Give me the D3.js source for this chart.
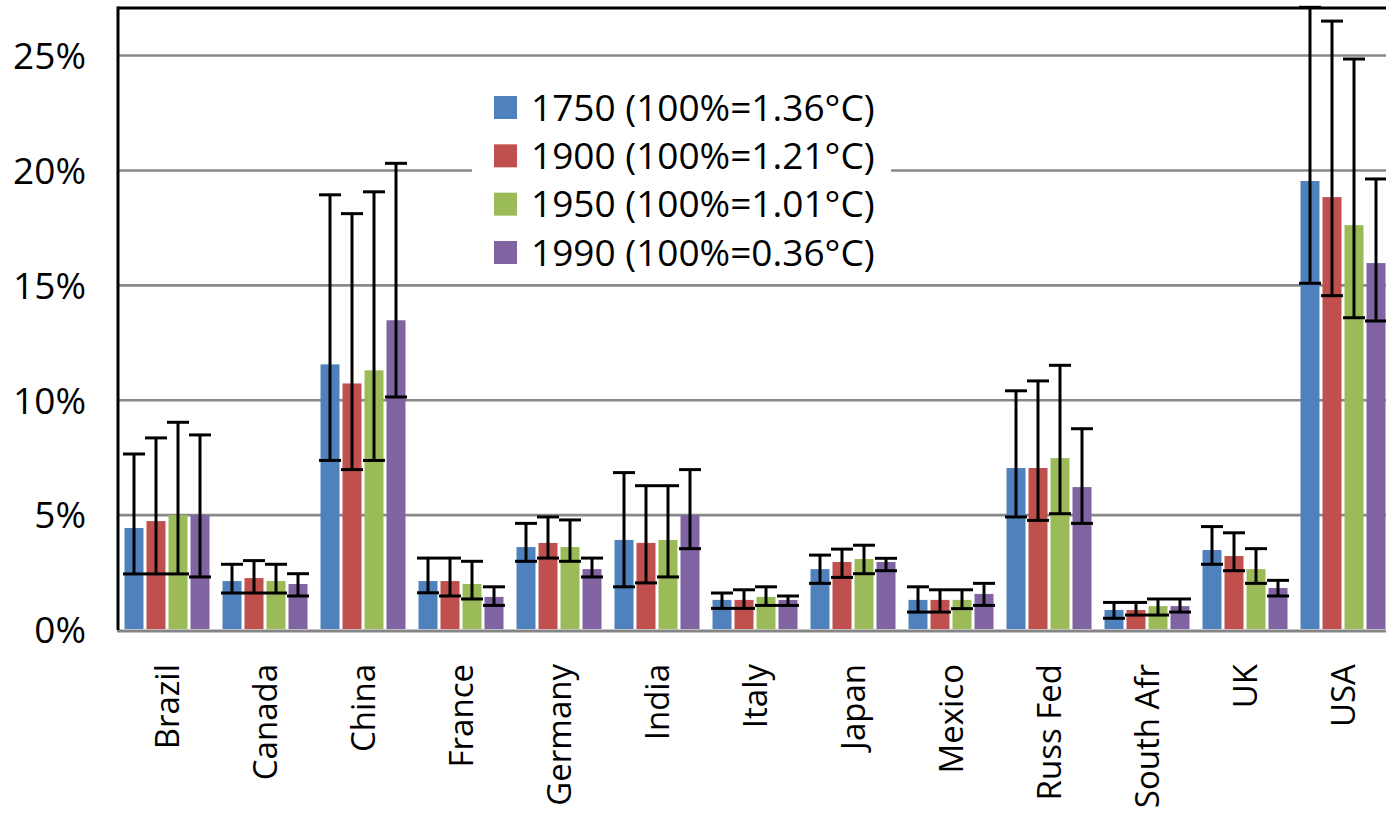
<!DOCTYPE html>
<html><head><meta charset="utf-8">
<script src="https://cdn.jsdelivr.net/npm/d3@7"></script>
<style>html,body{margin:0;padding:0;background:#fff;overflow:hidden}</style>
</head><body>
<svg id="chart" width="1386" height="816"></svg>
<script>
const categories = ["Brazil","Canada","China","France","Germany","India","Italy","Japan","Mexico","Russ Fed","South Afr","UK","USA"];
const seriesNames = ["1750 (100%=1.36°C)","1900 (100%=1.21°C)","1950 (100%=1.01°C)","1990 (100%=0.36°C)"];
const colors = ["#4F81BD","#C0504D","#9BBB59","#8064A2"];
const yTicks = [0,5,10,15,20,25];
const yMax = 27.07;

const v1750 = [4.44, 2.13, 11.56, 2.13, 3.61, 3.92, 1.31, 2.65, 1.31, 7.05, 0.87, 3.48, 19.54];
const v1900 = [4.74, 2.26, 10.73, 2.13, 3.79, 3.79, 1.31, 2.96, 1.31, 7.05, 0.87, 3.22, 18.84];
const v1950 = [5.00, 2.13, 11.30, 2.00, 3.61, 3.92, 1.44, 3.09, 1.31, 7.48, 1.04, 2.65, 17.62];
const v1990 = [5.00, 2.00, 13.48, 1.44, 2.65, 5.00, 1.31, 2.96, 1.57, 6.22, 1.04, 1.83, 15.97];

const lo1750 = [2.44, 1.61, 7.38, 1.62, 2.99, 1.88, 0.94, 2.03, 0.78, 4.92, 0.51, 2.86, 15.09];
const lo1900 = [2.44, 1.61, 6.98, 1.48, 3.13, 2.05, 0.94, 2.29, 0.78, 4.77, 0.65, 2.58, 14.55];
const lo1950 = [2.44, 1.61, 7.38, 1.35, 2.99, 2.31, 1.07, 2.45, 0.93, 5.06, 0.65, 2.03, 13.59];
const lo1990 = [2.31, 1.48, 10.14, 1.07, 2.31, 3.54, 1.07, 2.58, 1.07, 4.64, 0.78, 1.48, 13.45];

const hi1750 = [7.66, 2.86, 18.94, 3.13, 4.64, 6.85, 1.61, 3.26, 1.88, 10.41, 1.20, 4.50, 27.10];
const hi1900 = [8.36, 3.02, 18.12, 3.13, 4.92, 6.28, 1.75, 3.52, 1.75, 10.84, 1.20, 4.23, 26.50];
const hi1950 = [9.04, 2.86, 19.07, 2.99, 4.79, 6.28, 1.88, 3.69, 1.75, 11.52, 1.35, 3.54, 24.85];
const hi1990 = [8.49, 2.45, 20.31, 1.88, 3.13, 6.98, 1.48, 3.12, 2.03, 8.76, 1.35, 2.16, 19.63];

const values = [v1750, v1900, v1950, v1990];
const lows = [lo1750, lo1900, lo1950, lo1990];
const highs = [hi1750, hi1900, hi1950, hi1990];

(function draw() {
const FONT = "'Open Sans', sans-serif";
const svg = d3.select("#chart");
const pLeft = 118, pRight = 1392, pTop = 8, pBottom = 630;

const x0 = d3.scaleBand().domain(categories).range([pLeft, pRight])
  .paddingInner(13/98).paddingOuter(13/98/2);
const x1 = d3.scaleBand().domain(d3.range(4)).range([0, x0.bandwidth()]).paddingInner(3/22).paddingOuter(0);
const y = d3.scaleLinear().domain([0, yMax]).range([pBottom, pTop]);

// gridlines
svg.append("g").selectAll("line").data(yTicks.filter(d => d > 0)).join("line")
  .attr("x1", pLeft).attr("x2", 1386)
  .attr("y1", d => y(d)).attr("y2", d => y(d))
  .attr("stroke", "#898989").attr("stroke-width", 2.6);

// y tick labels
svg.append("g").selectAll("text").data(yTicks).join("text")
  .attr("x", 86).attr("y", d => y(d)).attr("dy", "0.36em")
  .attr("text-anchor", "end")
  .style("font-family", FONT).style("font-size", "37px").attr("fill", "#000")
  .text(d => d + "%");

// bars
const flat = [];
categories.forEach((c, ci) => {
  for (let s = 0; s < 4; s++) flat.push({c, s, v: values[s][ci], lo: lows[s][ci], hi: highs[s][ci]});
});
svg.append("g").selectAll("rect").data(flat).join("rect")
  .attr("x", d => x0(d.c) + x1(d.s))
  .attr("width", x1.bandwidth())
  .attr("y", d => y(d.v))
  .attr("height", d => y(0) - y(d.v) - 1)
  .attr("fill", d => colors[d.s]);

// error bars
const eg = svg.append("g").attr("stroke", "#000").attr("stroke-width", 3);
const cx = d => x0(d.c) + x1(d.s) + x1.bandwidth() / 2;
eg.selectAll("line.v").data(flat).join("line").attr("class", "v")
  .attr("x1", cx).attr("x2", cx).attr("y1", d => y(d.lo)).attr("y2", d => y(d.hi));
eg.selectAll("line.l").data(flat).join("line").attr("class", "l")
  .attr("x1", d => cx(d) - 11).attr("x2", d => cx(d) + 11).attr("y1", d => y(d.lo)).attr("y2", d => y(d.lo));
eg.selectAll("line.h").data(flat).join("line").attr("class", "h")
  .attr("x1", d => cx(d) - 11).attr("x2", d => cx(d) + 11).attr("y1", d => y(d.hi)).attr("y2", d => y(d.hi));

// axes lines
svg.append("line").attr("x1", pLeft - 1).attr("x2", 1386).attr("y1", pBottom + 1).attr("y2", pBottom + 1)
  .attr("stroke", "#858585").attr("stroke-width", 3);
svg.append("line").attr("x1", pLeft).attr("x2", 1386).attr("y1", pTop).attr("y2", pTop)
  .attr("stroke", "#000").attr("stroke-width", 3);
svg.append("line").attr("x1", pLeft).attr("x2", pLeft).attr("y1", pTop - 1.5).attr("y2", pBottom)
  .attr("stroke", "#000").attr("stroke-width", 3);

// category labels
svg.append("g").selectAll("text").data(categories).join("text")
  .attr("transform", d => `translate(${x0(d) + x0.bandwidth() / 2},664) rotate(-90)`)
  .attr("text-anchor", "end").attr("dy", "0.36em")
  .style("font-family", FONT).style("font-size", "33px").attr("fill", "#000")
  .text(d => d);

// legend
const lg = svg.append("g");
lg.append("rect").attr("x", 472).attr("y", 82).attr("width", 419).attr("height", 195).attr("fill", "#fff");
const ly = d3.scaleLinear().domain([0, 3]).range([107.5, 252.5]);
seriesNames.forEach((n, i) => {
  lg.append("rect").attr("x", 494).attr("y", ly(i) - 11.5).attr("width", 23).attr("height", 23).attr("fill", colors[i]);
  lg.append("text").attr("x", 531).attr("y", ly(i)).attr("dy", "0.36em")
    .style("font-family", FONT).style("font-size", "37px").attr("fill", "#000").text(n);
});
})();
</script>
</body></html>
